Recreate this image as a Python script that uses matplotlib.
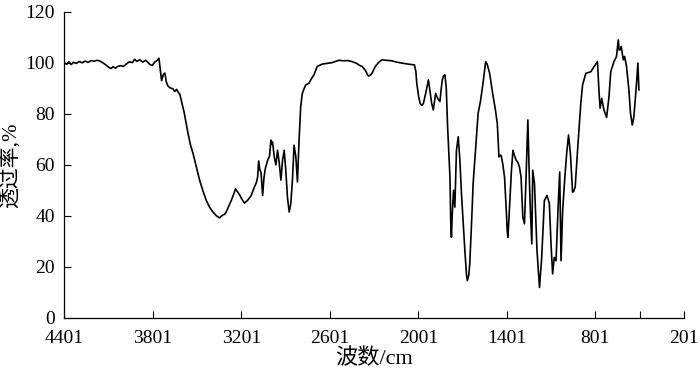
import matplotlib
matplotlib.use("Agg")
import matplotlib.pyplot as plt
import numpy as np

plt.rcParams['font.family'] = ['Liberation Serif', 'Noto Sans CJK SC']

# wavenumber (cm-1) and transmittance (%)
wavenumber = [
    4401, 4385, 4370, 4355, 4340, 4320, 4300, 4280, 4260, 4240, 4220, 4200,
    4180, 4160, 4140, 4120, 4100, 4085, 4070, 4055, 4040, 4020, 4000, 3980,
    3960, 3940, 3925, 3910, 3890, 3870, 3850, 3835, 3820, 3805, 3790, 3772,
    3760, 3748, 3742, 3730, 3720, 3710, 3700, 3685, 3665, 3653, 3640, 3630,
    3619, 3605, 3590, 3575, 3563, 3545, 3529, 3505, 3484, 3460, 3439, 3415,
    3394, 3370, 3349, 3330, 3315, 3304, 3285, 3270, 3250, 3241, 3228, 3214,
    3200, 3181, 3160, 3136, 3115, 3100, 3091, 3084, 3076, 3068, 3057, 3048,
    3039, 3023, 3010, 3001, 2995, 2990, 2978, 2967, 2956, 2945, 2933, 2922,
    2911, 2900, 2889, 2877, 2866, 2855, 2844, 2832, 2821, 2810, 2799, 2788,
    2775, 2765, 2743, 2731, 2709, 2687, 2653, 2620, 2585, 2560, 2540, 2510,
    2480, 2451, 2420, 2400, 2383, 2360, 2345, 2338, 2325, 2316, 2293, 2270,
    2248, 2220, 2181, 2150, 2113, 2070, 2028, 2018, 2012, 2000, 1989, 1977,
    1967, 1950, 1933, 1920, 1911, 1900, 1884, 1870, 1855, 1846, 1839, 1830,
    1821, 1812, 1803, 1787, 1781, 1777, 1772, 1763, 1754, 1743, 1731, 1720,
    1709, 1697, 1686, 1675, 1669, 1660, 1653, 1640, 1630, 1615, 1596, 1580,
    1563, 1550, 1545, 1535, 1518, 1505, 1495, 1480, 1466, 1455, 1445, 1439,
    1428, 1417, 1405, 1399, 1394, 1383, 1370, 1360, 1349, 1338, 1327, 1316,
    1305, 1293, 1282, 1271, 1259, 1248, 1241, 1232, 1226, 1214, 1197, 1180,
    1165, 1155, 1147, 1129, 1113, 1102, 1091, 1080, 1068, 1052, 1043, 1034,
    1023, 1008, 995, 983, 970, 956, 949, 938, 922, 900, 888, 866,
    832, 809, 787, 776, 769, 758, 743, 725, 709, 697, 675, 658,
    646, 640, 634, 626, 612, 603, 590, 574, 563, 551, 540, 522,
    513, 506,
]
transmittance = [
    100.0, 99.4, 100.4, 99.3, 100.2, 99.8, 100.5, 100.0, 100.7, 100.2, 100.9, 100.6,
    101.0, 100.7, 100.0, 99.2, 98.2, 97.8, 98.5, 97.9, 98.6, 98.9, 98.6, 99.6,
    100.4, 100.1, 101.4, 100.6, 101.2, 100.3, 101.0, 100.2, 99.3, 99.0, 100.2, 101.0,
    101.8, 96.0, 93.0, 95.5, 96.0, 92.5, 91.0, 90.2, 89.8, 88.8, 89.6, 88.5,
    87.8, 84.5, 80.8, 76.0, 72.4, 67.5, 64.5, 58.8, 53.9, 49.5, 46.0, 43.2,
    41.5, 40.0, 39.2, 40.2, 40.6, 41.5, 44.0, 46.0, 49.0, 50.6, 49.5, 48.3,
    46.8, 45.0, 46.0, 47.8, 51.0, 53.0, 55.2, 61.5, 58.0, 57.0, 48.0, 55.0,
    58.5, 61.8, 63.5, 69.7, 68.0, 69.0, 63.0, 60.0, 65.7, 61.1, 54.0, 61.8,
    65.7, 57.9, 47.4, 41.5, 44.8, 54.0, 67.7, 63.1, 53.3, 69.7, 82.8, 88.0,
    90.0, 91.3, 92.0, 93.3, 95.3, 98.6, 99.5, 99.8, 100.1, 100.6, 101.0, 100.8,
    100.9, 100.5, 99.8, 99.0, 98.6, 97.0, 95.2, 94.8, 95.3, 95.9, 98.6, 100.2,
    101.2, 101.0, 100.8, 100.3, 99.9, 99.5, 99.2, 96.5, 92.0, 87.0, 84.0, 83.3,
    84.1, 88.5, 93.3, 88.0, 84.1, 81.5, 88.0, 86.0, 84.8, 90.0, 93.3, 95.0,
    95.3, 90.0, 74.9, 55.2, 35.6, 31.6, 40.0, 50.0, 43.4, 65.7, 71.0, 62.0,
    48.7, 37.0, 26.4, 17.0, 14.6, 16.5, 21.1, 38.0, 52.6, 65.0, 80.2, 85.0,
    92.0, 98.0, 100.5, 99.5, 95.9, 91.0, 87.0, 82.0, 76.2, 63.1, 63.8, 63.4,
    60.0, 55.2, 42.0, 34.3, 31.6, 43.4, 58.0, 65.7, 63.5, 61.8, 61.0, 59.2,
    55.2, 39.5, 36.9, 55.2, 77.6, 52.6, 40.8, 29.0, 57.9, 52.6, 26.4, 11.9,
    23.7, 36.0, 46.0, 48.0, 44.8, 29.0, 17.2, 23.7, 22.4, 46.0, 57.2, 22.4,
    42.1, 55.2, 65.0, 71.7, 64.0, 49.3, 49.5, 51.3, 65.7, 84.1, 91.3, 95.9,
    96.5, 98.6, 100.5, 88.0, 82.2, 86.1, 81.5, 78.6, 86.7, 96.5, 100.5, 102.5,
    109.0, 105.0, 105.1, 106.4, 101.2, 102.5, 98.6, 89.4, 80.2, 75.6, 78.9, 92.0,
    99.9, 89.4,
]

x_ticks = [4401, 3801, 3201, 2601, 2001, 1401, 801, 201]
y_ticks = [0, 20, 40, 60, 80, 100, 120]

fig = plt.figure(figsize=(7, 3.7), dpi=100)
ax = fig.add_axes([0.092, 0.141, 0.885, 0.827])
ax.plot(wavenumber, transmittance, color='black', lw=1.2)

ax.set_xlim(4401, 201)
ax.set_ylim(0, 120)
ax.set_xticks(x_ticks)
ax.set_xticks([501], minor=True)
ax.set_yticks(y_ticks)
ax.tick_params(axis='both', which='both', direction='in', labelsize=14,
               length=5, width=0.8)
ax.tick_params(axis='x', pad=9)
ax.tick_params(axis='y', pad=7)
for s in ['top', 'right']:
    ax.spines[s].set_visible(False)
for s in ['left', 'bottom']:
    ax.spines[s].set_linewidth(0.9)

ax.set_xlabel('波数/cm', fontsize=16, labelpad=1)
ax.set_ylabel('透过率,%', fontsize=15, labelpad=3)

fig.savefig('out.png', dpi=100)
